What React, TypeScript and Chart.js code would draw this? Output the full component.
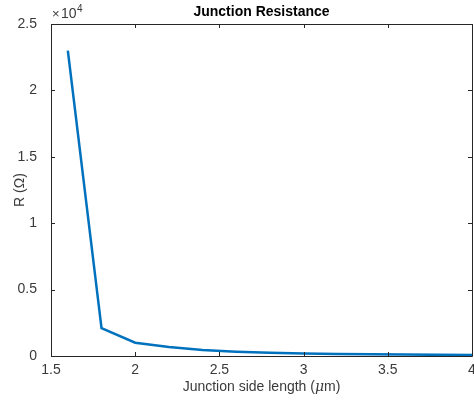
import React, { useEffect, useRef } from "react";
import { Chart, registerables } from "chart.js";

Chart.register(...registerables);

const sideLength: number[] = [1.6, 1.8, 2.0, 2.2, 2.4, 2.6, 2.8, 3.0, 3.2, 3.4, 3.6, 3.8, 4.0];
const resistance: number[] = [23000, 2100, 1000, 680, 450, 320, 240, 185, 150, 125, 105, 90, 78];
const xTicks: number[] = [1.5, 2, 2.5, 3, 3.5, 4];
const yTicks: number[] = [0, 5000, 10000, 15000, 20000, 25000];

const FONT = "'Liberation Sans', Arial, Helvetica, sans-serif";
const AXIS = "#262626";
const TEXT = "#3a3a3a";

const boxPlugin = {
  id: "matlabBox",
  afterDraw(chart: any) {
    const { ctx, chartArea: a, scales } = chart;
    const xs = scales.x;
    const ys = scales.y;
    ctx.save();
    ctx.strokeStyle = AXIS;
    ctx.lineWidth = 1;
    ctx.beginPath();
    ctx.rect(Math.round(a.left) + 0.5, Math.round(a.top) + 0.5, Math.round(a.right - a.left), Math.round(a.bottom - a.top));
    ctx.stroke();
    const tl = 4;
    ctx.beginPath();
    xTicks.forEach((v) => {
      const px = Math.round(xs.getPixelForValue(v)) + 0.5;
      ctx.moveTo(px, a.bottom);
      ctx.lineTo(px, a.bottom - tl);
      ctx.moveTo(px, a.top);
      ctx.lineTo(px, a.top + tl);
    });
    yTicks.forEach((v) => {
      const py = Math.round(ys.getPixelForValue(v)) + 0.5;
      ctx.moveTo(a.left, py);
      ctx.lineTo(a.left + tl, py);
      ctx.moveTo(a.right, py);
      ctx.lineTo(a.right - tl, py);
    });
    ctx.stroke();

    // Title
    ctx.fillStyle = "#000000";
    ctx.font = `bold 14px ${FONT}`;
    ctx.textAlign = "center";
    ctx.textBaseline = "middle";
    ctx.fillText("Junction Resistance", (a.left + a.right) / 2, 12);

    // Exponent
    ctx.fillStyle = TEXT;
    ctx.textAlign = "left";
    ctx.textBaseline = "alphabetic";
    ctx.font = `13px ${FONT}`;
    ctx.fillText("\u00d7", a.left + 1, 18);
    ctx.font = `14px ${FONT}`;
    ctx.fillText("10", a.left + 10, 18);
    ctx.font = `10px ${FONT}`;
    ctx.fillText("4", a.left + 26, 12);

    // X label
    const parts: [string, string][] = [
      ["Junction side length (", `14px ${FONT}`],
      ["\u03bc", `italic 14px 'DejaVu Serif', serif`],
      ["m)", `14px ${FONT}`],
    ];
    let total = 0;
    parts.forEach(([t, f]) => {
      ctx.font = f;
      total += ctx.measureText(t).width;
    });
    let x = (a.left + a.right) / 2 - total / 2;
    ctx.textBaseline = "middle";
    parts.forEach(([t, f]) => {
      ctx.font = f;
      ctx.fillText(t, x, 387);
      x += ctx.measureText(t).width;
    });

    // Y label
    ctx.save();
    ctx.translate(20, (a.top + a.bottom) / 2);
    ctx.rotate(-Math.PI / 2);
    ctx.textAlign = "center";
    ctx.textBaseline = "middle";
    ctx.font = `14px ${FONT}`;
    ctx.fillText("R (\u03a9)", 0, 0);
    ctx.restore();
    ctx.restore();
  },
};

export default function App() {
  const ref = useRef<HTMLCanvasElement | null>(null);
  useEffect(() => {
    document.body.style.margin = "0";
    const canvas = ref.current!;
    const chart = new Chart(canvas, {
      type: "line",
      data: {
        datasets: [
          {
            data: sideLength.map((x, i) => ({ x, y: resistance[i] })),
            borderColor: "#0072BD",
            borderWidth: 2.5,
            pointRadius: 0,
            fill: false,
            tension: 0,
          },
        ],
      },
      options: {
        responsive: false,
        animation: false,
        events: [],
        layout: { padding: { top: 24, right: 2, left: 0, bottom: 0 } },
        plugins: { legend: { display: false }, tooltip: { enabled: false }, title: { display: false } },
        scales: {
          x: {
            type: "linear",
            min: 1.5,
            max: 4,
            grid: { display: false, drawTicks: false },
            border: { display: false },
            afterBuildTicks: (s: any) => {
              s.ticks = xTicks.map((v) => ({ value: v }));
            },
            afterFit: (s: any) => {
              s.height = 46;
              s.paddingLeft = 0;
              s.paddingRight = 0;
            },
            ticks: {
              padding: 6,
              color: TEXT,
              font: { family: FONT, size: 14 },
              maxRotation: 0,
              autoSkip: false,
              callback: (v: any) => String(v),
            },
          },
          y: {
            min: 0,
            max: 25000,
            grid: { display: false },
            border: { display: false },
            afterBuildTicks: (s: any) => {
              s.ticks = yTicks.map((v) => ({ value: v }));
            },
            afterFit: (s: any) => {
              s.width = 51;
              s.paddingTop = 0;
              s.paddingBottom = 0;
            },
            ticks: {
              padding: 6,
              color: TEXT,
              font: { family: FONT, size: 14 },
              callback: (v: any) => String(Number(v) / 10000),
            },
          },
        },
      },
      plugins: [boxPlugin],
    } as any);
    return () => chart.destroy();
  }, []);
  return <canvas ref={ref} width={474} height={402} style={{ display: "block" }} />;
}
